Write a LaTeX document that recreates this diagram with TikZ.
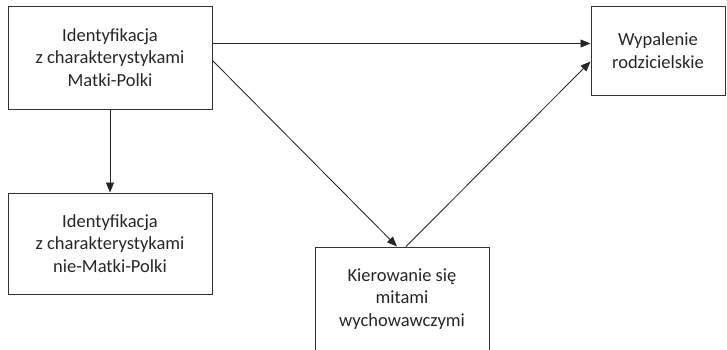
\documentclass[tikz,border=0pt]{standalone}
\usepackage{fontspec}
\setmainfont{Carlito}
\usetikzlibrary{arrows.meta}
\begin{document}
\begin{tikzpicture}[x=1pt,y=-1pt,
  box/.style={draw=black!80, line width=1pt, align=center, inner sep=0pt,
    font=\fontsize{18.5}{22.5}\selectfont, text=black!85},
  arr/.style={draw=black!85, line width=0.85pt, -{Triangle[length=10pt,width=8pt]}}]
\useasboundingbox (0,0) rectangle (727,349);
\clip (0,0) rectangle (727,349);
\node[box, minimum width=204pt, minimum height=103pt] (A) at (110,57.5)
  {Identyfikacja\\z charakterystykami\\Matki-Polki};
\node[box, minimum width=204pt, minimum height=101pt] (B) at (110,243.5)
  {Identyfikacja\\z charakterystykami\\nie-Matki-Polki};
\node[box, minimum width=134pt, minimum height=89pt] (C) at (658,50.5)
  {Wypalenie\\rodzicielskie};
\node[box, minimum width=174pt, minimum height=104pt] (D) at (402,299)
  {Kierowanie się\\mitami\\wychowawczymi};
\draw[arr] ([yshift=-38pt]A.north east) -- ([yshift=-38pt]C.north west);
\draw[arr] ([yshift=-55pt]A.north east) -- ([xshift=-5pt]D.north);
\draw[arr] ([xshift=4pt]D.north) -- ([yshift=-56pt]C.north west);
\draw[arr] (A.south) -- (B.north);
\end{tikzpicture}
\end{document}
